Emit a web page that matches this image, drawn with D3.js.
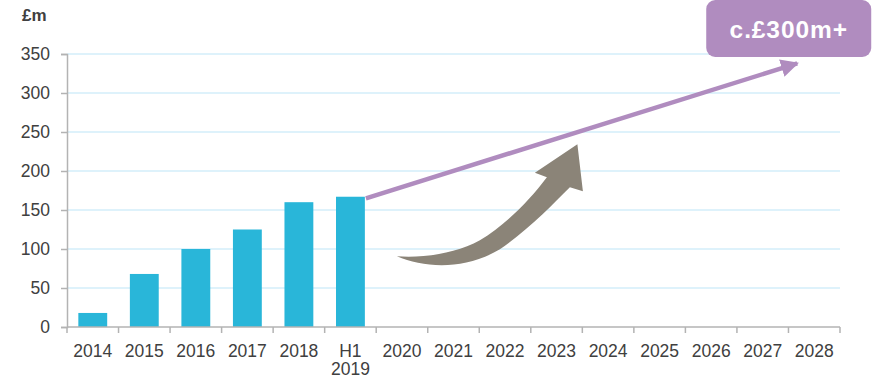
<!DOCTYPE html>
<html>
<head>
<meta charset="utf-8">
<script src="https://cdn.jsdelivr.net/npm/d3@7"></script>
<style>
  body { margin: 0; background: #fff; }
  text { font-family: "Liberation Sans", Arial, sans-serif; }
</style>
</head>
<body>
<div id="chart"></div>
<script>
// Categories and values
var categories = ["2014", "2015", "2016", "2017", "2018", "H1\n2019",
    "2020", "2021", "2022", "2023", "2024", "2025", "2026", "2027", "2028"];
var revenue = [18, 68, 100, 125, 160, 167];
var yTicks = [0, 50, 100, 150, 200, 250, 300, 350];

// Growth line: [category index position, value]
var trendStart = [5.8, 165];
var trendEnd = [14.17, 338];
var targetLabel = "c.£300m+";

var width = 889, height = 378;
var margin = { top: 54, right: 49, bottom: 51, left: 67 };

var svg = d3.select("#chart")
    .append("svg")
    .attr("width", width)
    .attr("height", height);

var defs = svg.append("defs");
defs.append("marker")
    .attr("id", "head")
    .attr("viewBox", "0 0 10 10")
    .attr("refX", 9)
    .attr("refY", 5)
    .attr("markerWidth", 4)
    .attr("markerHeight", 4)
    .attr("markerUnits", "strokeWidth")
    .attr("orient", "auto")
    .append("path")
    .attr("d", "M0,0 L10,5 L0,10 Z")
    .attr("fill", "#b08cbf");

var g = svg.append("g")
    .attr("transform", "translate(" + margin.left + "," + margin.top + ")");

var w = width - margin.left - margin.right;
var h = height - margin.top - margin.bottom;

var x = d3.scaleBand()
    .domain(categories)
    .range([0, w])
    .paddingInner(0.44)
    .paddingOuter(0.22);

var xPos = d3.scaleLinear()
    .domain([0, categories.length])
    .range([0, w]);

var y = d3.scaleLinear()
    .domain([0, 350])
    .range([h, 0]);

// Grid lines
g.selectAll("line.grid")
    .data(yTicks.slice(1))
    .enter()
    .append("line")
    .attr("class", "grid")
    .attr("x1", 0)
    .attr("x2", w)
    .attr("y1", d => y(d))
    .attr("y2", d => y(d))
    .attr("stroke", "#d3eefa")
    .attr("stroke-width", 1.5);

// Bars
g.selectAll("rect")
    .data(revenue)
    .enter()
    .append("rect")
    .attr("x", (d, i) => x(categories[i]))
    .attr("y", d => y(d))
    .attr("width", x.bandwidth())
    .attr("height", d => y(0) - y(d))
    .attr("fill", "#29b6d9");

// Y axis
var yAxis = g.append("g")
    .call(d3.axisLeft(y).tickValues(yTicks).tickSize(6).tickPadding(11));
yAxis.selectAll("text")
    .attr("font-size", "17.5px")
    .attr("fill", "#404040");

// X axis with tick marks on band boundaries
var xAxis = g.append("g")
    .attr("transform", "translate(0," + h + ")");
xAxis.append("line")
    .attr("x1", 0).attr("x2", w)
    .attr("stroke", "#b3b3b3").attr("stroke-width", 1.5);
xAxis.selectAll("line.tick")
    .data(d3.range(categories.length + 1))
    .enter()
    .append("line")
    .attr("class", "tick")
    .attr("x1", d => xPos(d)).attr("x2", d => xPos(d))
    .attr("y1", 0).attr("y2", 6)
    .attr("stroke", "#b3b3b3").attr("stroke-width", 1.5);
xAxis.selectAll("text")
    .data(categories)
    .enter()
    .append("text")
    .attr("x", d => x(d) + x.bandwidth() / 2)
    .attr("y", 29.5)
    .attr("text-anchor", "middle")
    .attr("font-size", "17.5px")
    .attr("fill", "#404040")
    .each(function (d) {
        var t = d3.select(this);
        d.split("\n").forEach(function (part, k) {
            t.append("tspan")
                .attr("x", x(d) + x.bandwidth() / 2)
                .attr("dy", k === 0 ? 0 : 18.5)
                .text(part);
        });
    });

yAxis.select(".domain").attr("stroke", "#b3b3b3").attr("stroke-width", 1.5);
yAxis.selectAll(".tick line").attr("stroke", "#b3b3b3").attr("stroke-width", 1.5);

// Unit label
svg.append("text")
    .attr("x", 22)
    .attr("y", 21)
    .attr("font-size", "17px")
    .attr("font-weight", "bold")
    .attr("fill", "#404040")
    .text("£m");

// Curved grey arrow (drawn in local coords, anchored below the trend start)
var ax = xPos(trendStart[0]) + margin.left;
var ay = y(trendStart[1]) + margin.top;
svg.append("path")
    .attr("transform", "translate(" + (ax - 366) + "," + (ay - 198) + ")")
    .attr("d", "M397,256 C425,268 465,270 500,249 C528,230 552,205 570,187 " +
        "L583,191 L577.5,144 L535,172.5 L547,177 " +
        "C530,200 505,225 480,240 C455,254 420,258 397,256 Z")
    .attr("fill", "#8b8478");

// Purple growth line
g.append("line")
    .attr("x1", xPos(trendStart[0]))
    .attr("y1", y(trendStart[1]))
    .attr("x2", xPos(trendEnd[0]))
    .attr("y2", y(trendEnd[1]))
    .attr("stroke", "#b08cbf")
    .attr("stroke-width", 4.5)
    .attr("marker-end", "url(#head)");

// Target label box
var bx = xPos(trendEnd[0]) + margin.left;
svg.append("rect")
    .attr("x", bx - 91)
    .attr("y", 0)
    .attr("width", 165)
    .attr("height", 57)
    .attr("rx", 9)
    .attr("fill", "#b08cbf");
svg.append("text")
    .attr("x", bx - 8.5)
    .attr("y", 37.5)
    .attr("text-anchor", "middle")
    .attr("font-size", "24.5px")
    .attr("font-weight", "bold")
    .attr("letter-spacing", "0.9px")
    .attr("fill", "#fff")
    .text(targetLabel);
</script>
</body>
</html>
